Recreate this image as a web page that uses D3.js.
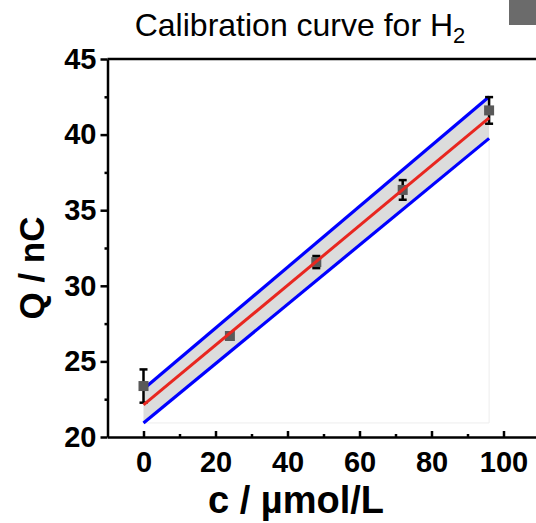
<!DOCTYPE html>
<html>
<head>
<meta charset="utf-8">
<script src="https://cdn.jsdelivr.net/npm/d3@7"></script>
<style>
  body { margin: 0; background: #fff; }
  svg { display: block; font-family: "Liberation Sans", Arial, sans-serif; }
</style>
</head>
<body>
<svg id="chart" width="536" height="523"></svg>
<script>
// Calibration curve for H2

var conc = [0, 24, 48, 72, 96];
var charge = [23.37, 26.68, 31.57, 36.34, 41.6];
var chargeErr = [1.1, 0.2, 0.4, 0.65, 0.88];

var fitX = [0, 96];
var fitY = [22.12, 41.1];
var bandUpper = [23.17, 42.5];
var bandLower = [20.93, 39.75];

var xTicks = [0, 20, 40, 60, 80, 100];
var xMinor = [10, 30, 50, 70, 90, 110];
var yTicks = [20, 25, 30, 35, 40, 45];
var yMinor = [22.5, 27.5, 32.5, 37.5, 42.5];

var svg = d3.select("#chart");

var x = d3.scaleLinear().domain([-10, 110]).range([107.5, 539.5]);
var y = d3.scaleLinear().domain([20, 45]).range([437, 59]);

// band fill
var band = fitX.map(function (d, i) {
  return { x: d, lo: bandLower[i], hi: bandUpper[i], fit: fitY[i] };
});

svg.append("path")
  .datum(band)
  .attr("d", d3.area()
    .x(function (d) { return x(d.x); })
    .y0(function (d) { return y(d.lo); })
    .y1(function (d) { return y(d.hi); }))
  .attr("fill", "#dcdcdc");

// faint outline left by the fill
svg.append("path")
  .attr("d", "M" + x(fitX[0]) + "," + y(bandLower[0]) +
    "L" + x(fitX[1]) + "," + y(bandLower[0]) +
    "L" + x(fitX[1]) + "," + y(bandLower[1]))
  .attr("fill", "none")
  .attr("stroke", "#ededed")
  .attr("stroke-width", 1);

var line = d3.line()
  .x(function (d) { return x(d.x); });

svg.append("path")
  .datum(band)
  .attr("d", line.y(function (d) { return y(d.hi); }))
  .attr("fill", "none")
  .attr("stroke", "#0000ff")
  .attr("stroke-width", 3.2);

svg.append("path")
  .datum(band)
  .attr("d", line.y(function (d) { return y(d.lo); }))
  .attr("fill", "none")
  .attr("stroke", "#0000ff")
  .attr("stroke-width", 3.2);

// error bars
var pts = conc.map(function (d, i) {
  return { x: d, q: charge[i], e: chargeErr[i] };
});

var eb = svg.append("g").attr("stroke", "#000").attr("stroke-width", 2.5);
pts.forEach(function (d) {
  var cx = x(d.x);
  eb.append("line")
    .attr("x1", cx).attr("x2", cx)
    .attr("y1", y(d.q + d.e)).attr("y2", y(d.q - d.e));
  eb.append("line")
    .attr("x1", cx - 4).attr("x2", cx + 4)
    .attr("y1", y(d.q + d.e)).attr("y2", y(d.q + d.e));
  eb.append("line")
    .attr("x1", cx - 4).attr("x2", cx + 4)
    .attr("y1", y(d.q - d.e)).attr("y2", y(d.q - d.e));
});

// points
svg.selectAll("rect.pt")
  .data(pts)
  .enter()
  .append("rect")
  .attr("class", "pt")
  .attr("x", function (d) { return x(d.x) - 5; })
  .attr("y", function (d) { return y(d.q) - 5; })
  .attr("width", 10)
  .attr("height", 10)
  .attr("fill", "#595959");

// fit line
svg.append("path")
  .datum(band)
  .attr("d", line.y(function (d) { return y(d.fit); }))
  .attr("fill", "none")
  .attr("stroke", "#e8261f")
  .attr("stroke-width", 3);

// axes
svg.append("g")
  .attr("transform", "translate(0," + y(20) + ")")
  .call(d3.axisBottom(x).tickValues(xTicks).tickSize(-6).tickSizeOuter(0).tickPadding(14));
svg.append("g")
  .attr("transform", "translate(0," + y(20) + ")")
  .call(d3.axisBottom(x).tickValues(xMinor).tickSize(-3).tickFormat(""))
  .call(function (g) { g.select(".domain").remove(); });

svg.append("g")
  .attr("transform", "translate(" + x(-10) + ",0)")
  .call(d3.axisLeft(y).tickValues(yTicks).tickSize(7).tickSizeOuter(0).tickPadding(4));
svg.append("g")
  .attr("transform", "translate(" + x(-10) + ",0)")
  .call(d3.axisLeft(y).tickValues(yMinor).tickSize(3).tickFormat(""))
  .call(function (g) { g.select(".domain").remove(); });

svg.selectAll(".tick line, .domain").attr("stroke", "#000").attr("stroke-width", 2.5);
svg.selectAll(".tick text")
  .attr("fill", "#000")
  .style("font-size", "29px")
  .style("font-weight", "bold")
  .style("font-family", "'Liberation Sans', Arial, sans-serif");

// top spine
svg.append("line")
  .attr("x1", x(-10)).attr("x2", x(110))
  .attr("y1", y(45)).attr("y2", y(45))
  .attr("stroke", "#000")
  .attr("stroke-width", 2.5);

// cut-off legend symbol
svg.append("rect")
  .attr("x", 509).attr("y", 0)
  .attr("width", 30).attr("height", 25)
  .attr("fill", "#6b6b6b");

// title
var title = svg.append("text")
  .attr("x", 300)
  .attr("y", 36)
  .attr("text-anchor", "middle")
  .style("font-size", "32px");
title.append("tspan").text("Calibration curve for H");
title.append("tspan").attr("dy", 7).style("font-size", "22px").text("2");

// axis labels
svg.append("text")
  .attr("x", 296)
  .attr("y", 513)
  .attr("text-anchor", "middle")
  .style("font-size", "38px")
  .style("font-weight", "bold")
  .text("c / \u00b5mol/L");

svg.append("text")
  .attr("transform", "translate(44,268) rotate(-90)")
  .attr("text-anchor", "middle")
  .style("font-size", "35px")
  .style("font-weight", "bold")
  .text("Q / nC");
</script>
</body>
</html>
